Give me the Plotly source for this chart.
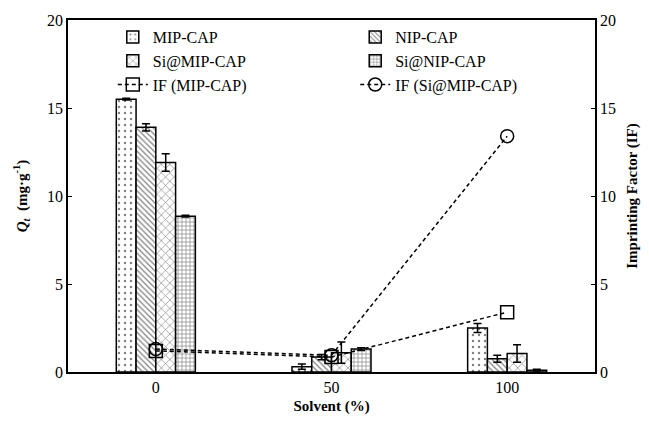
import plotly.graph_objects as go

categories = ["0", "50", "100"]
mip = [15.5, 0.3, 2.5]
mip_err = [0.05, 0.15, 0.25]
nip = [13.9, 0.85, 0.75]
nip_err = [0.2, 0.15, 0.2]
si_mip = [11.9, 1.1, 1.05]
si_mip_err = [0.5, 0.6, 0.5]
si_nip = [8.85, 1.3, 0.1]
si_nip_err = [0.05, 0.08, 0.05]
if_mip = [1.2, 0.85, 3.4]
if_si_mip = [1.3, 0.95, 13.4]

FONT = "Liberation Serif"

fig = go.Figure()

def add_bar(name, vals, errs, shape, size, solidity):
    fig.add_trace(go.Bar(
        x=categories, y=vals, name=name,
        error_y=dict(type="data", array=errs, color="black", thickness=1.5, width=4),
        marker=dict(color="white", line=dict(color="black", width=1.5),
                    pattern=dict(shape=shape, fgcolor="black", bgcolor="white",
                                 size=size, solidity=solidity)),
    ))

add_bar("MIP-CAP", mip, mip_err, ".", 6, 0.12)
add_bar("NIP-CAP", nip, nip_err, "\\", 4, 0.3)
add_bar("Si@MIP-CAP", si_mip, si_mip_err, "x", 6, 0.2)
add_bar("Si@NIP-CAP", si_nip, si_nip_err, "+", 4, 0.3)

fig.add_trace(go.Scatter(
    x=categories, y=if_mip, name="IF (MIP-CAP)", yaxis="y2", mode="lines+markers",
    line=dict(color="black", dash="4px,3px", width=1.5),
    marker=dict(symbol="square-open", size=13, color="black", line=dict(width=1.5)),
))
fig.add_trace(go.Scatter(
    x=categories, y=if_si_mip, name="IF (Si@MIP-CAP)", yaxis="y2", mode="lines+markers",
    line=dict(color="black", dash="4px,3px", width=1.5),
    marker=dict(symbol="circle-open", size=13, color="black", line=dict(width=1.5)),
))

fig.update_layout(
    width=649, height=423,
    margin=dict(l=68, r=54, t=20, b=51),
    paper_bgcolor="white", plot_bgcolor="white",
    font=dict(family=FONT, size=16, color="black"),
    barmode="group", bargap=0.55, bargroupgap=0,
    showlegend=True,
    legend=dict(orientation="h", x=0.085, y=1.0, xanchor="left", yanchor="top",
                entrywidthmode="fraction", entrywidth=0.46,
                font=dict(family=FONT, size=16), bgcolor="rgba(0,0,0,0)",
                tracegroupgap=0, itemwidth=30),
    xaxis=dict(type="category", range=[-0.5, 2.5], showline=True, linecolor="black",
               linewidth=1.5, mirror=True, ticks="", tickfont=dict(family=FONT, size=16),
               title=dict(text="<b>Solvent (%)</b>", font=dict(family=FONT, size=15),
                          standoff=6)),
    yaxis=dict(range=[0, 20], tickvals=[0, 5, 10, 15, 20], showline=True,
               linecolor="black", linewidth=1.5, ticks="inside", ticklen=4,
               tickcolor="black", showgrid=False, zeroline=False,
               tickfont=dict(family=FONT, size=16),
               title=dict(text="<b><i>Q<sub>t</sub></i>  (mg·g<sup>-1</sup>)</b>",
                          font=dict(family=FONT, size=15), standoff=16)),
    yaxis2=dict(range=[0, 20], tickvals=[0, 5, 10, 15, 20], overlaying="y",
                side="right", showline=True, linecolor="black", linewidth=1.5,
                ticks="inside", ticklen=4, tickcolor="black", showgrid=False,
                zeroline=False, tickfont=dict(family=FONT, size=16),
                title=dict(text="<b>Imprinting Factor (IF)</b>",
                           font=dict(family=FONT, size=15), standoff=12)),
)

fig.write_html("out.html")
